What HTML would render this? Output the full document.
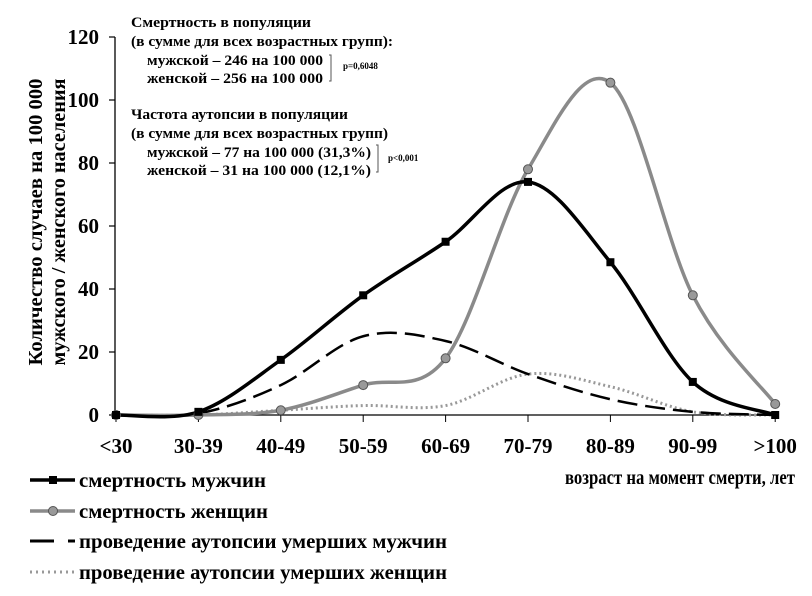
<!DOCTYPE html>
<html><head><meta charset="utf-8">
<style>
body{margin:0;background:#fff;}
svg text{font-family:"Liberation Serif",serif;font-weight:bold;fill:#000;}
</style></head>
<body>
<svg id="chart" width="812" height="591" viewBox="0 0 812 591" xmlns="http://www.w3.org/2000/svg">
<g id="axes"></g>
<g id="series"></g>
<g font-size="20">
<text transform="translate(42,222) rotate(-90)" text-anchor="middle" textLength="287" lengthAdjust="spacingAndGlyphs">Количество случаев на  100 000</text>
<text transform="translate(65,222) rotate(-90)" text-anchor="middle" textLength="287" lengthAdjust="spacingAndGlyphs">мужского / женского  населения</text>
</g>
<text x="565" y="484" font-size="20" textLength="230" lengthAdjust="spacingAndGlyphs">возраст на момент смерти, лет</text>
<g font-size="14.5">
<text x="131" y="27" textLength="180" lengthAdjust="spacingAndGlyphs">Смертность в популяции</text>
<text x="131" y="46" textLength="262" lengthAdjust="spacingAndGlyphs">(в  сумме для всех возрастных групп):</text>
<text x="147" y="65" textLength="176" lengthAdjust="spacingAndGlyphs">мужской – 246 на 100 000</text>
<text x="147" y="83" textLength="176" lengthAdjust="spacingAndGlyphs">женской – 256 на 100 000</text>
<path d="M329,55 L331,55 L331,81 L329,81" fill="none" stroke="#555" stroke-width="1"/>
<text x="343" y="69" font-size="9" font-weight="normal">p=0,6048</text>
<text x="131" y="119" textLength="217" lengthAdjust="spacingAndGlyphs">Частота аутопсии в популяции</text>
<text x="131" y="138" textLength="257" lengthAdjust="spacingAndGlyphs">(в  сумме для всех возрастных групп)</text>
<text x="147" y="157" textLength="224" lengthAdjust="spacingAndGlyphs">мужской – 77 на 100 000 (31,3%)</text>
<text x="147" y="175" textLength="224" lengthAdjust="spacingAndGlyphs">женской – 31 на 100 000 (12,1%)</text>
<path d="M376,145 L378,145 L378,172 L376,172" fill="none" stroke="#555" stroke-width="1"/>
<text x="388" y="161" font-size="9" font-weight="normal">p&lt;0,001</text>
</g>
<g font-size="21">
<g>
<line x1="30" y1="480" x2="75" y2="480" stroke="#000" stroke-width="3.5"/>
<rect x="49" y="476" width="8" height="8" fill="#000"/>
<text x="79" y="487" textLength="187" lengthAdjust="spacingAndGlyphs">смертность мужчин</text></g>
<g>
<line x1="30" y1="511" x2="75" y2="511" stroke="#8a8a8a" stroke-width="3.5"/>
<circle cx="53" cy="511" r="4.5" fill="#999" stroke="#555"/>
<text x="79" y="518" textLength="189" lengthAdjust="spacingAndGlyphs">смертность женщин</text></g>
<g>
<line x1="30" y1="541" x2="75" y2="541" stroke="#000" stroke-width="3" stroke-dasharray="24,14"/>
<text x="79" y="548" textLength="368" lengthAdjust="spacingAndGlyphs">проведение аутопсии умерших мужчин</text></g>
<g>
<line x1="30" y1="572" x2="75" y2="572" stroke="#999" stroke-width="3" stroke-dasharray="2,4"/>
<text x="79" y="579" textLength="368" lengthAdjust="spacingAndGlyphs">проведение аутопсии умерших женщин</text></g>
</g>
</svg>
<script>
const categories=["<30","30-39","40-49","50-59","60-69","70-79","80-89","90-99",">100"];
const menMortality=[0,1,17.5,38,55,74,48.5,10.5,0];
const womenMortality=[0,0,1.5,9.5,18,78,105.5,38,3.5];
const menAutopsy=[0,0.5,9.5,25,23.5,13,5,1,0];
const womenAutopsy=[0,0,1.5,3,3,13,9,1,0];
const yTicks=[0,20,40,60,80,100,120];

const NS="http://www.w3.org/2000/svg";
const x0=116,dx=82.4,yBase=415,yTop=37,yMax=120;
function xs(i){return x0+i*dx;}
function ys(v){return yBase-(v/yMax)*(yBase-yTop);}
function mk(tag,attrs,parent){const e=document.createElementNS(NS,tag);for(const k in attrs)e.setAttribute(k,attrs[k]);parent.appendChild(e);return e;}
const axes=document.getElementById('axes'),series=document.getElementById('series');

let a=mk('line',{x1:115,y1:yTop,x2:115,y2:yBase,stroke:'#000','stroke-width':1.3},axes);


a=mk('line',{x1:115,y1:yBase,x2:xs(8)+2,y2:yBase,stroke:'#000','stroke-width':1.3},axes);


yTicks.forEach(v=>{
  const y=ys(v);
  mk('line',{x1:109,y1:y,x2:115,y2:y,stroke:'#000','stroke-width':1.2},axes);
  const t=mk('text',{x:99,y:y+7,'text-anchor':'end','font-size':21},axes);
  t.textContent=v;
  
  
});
categories.forEach((c,i)=>{
  const x=xs(i);
  mk('line',{x1:x,y1:yBase,x2:x,y2:yBase+7,stroke:'#000','stroke-width':1},axes);
  const t=mk('text',{x:x,y:453,'text-anchor':'middle','font-size':21},axes);
  t.textContent=c;
  
  
});

function smoothPath(vals){
  const p=vals.map((v,i)=>[xs(i),ys(v)]);
  let d='M'+p[0][0]+','+p[0][1];
  for(let i=0;i<p.length-1;i++){
    const p0=p[Math.max(0,i-1)],p1=p[i],p2=p[i+1],p3=p[Math.min(p.length-1,i+2)];
    const k=1/6;
    const c1=[p1[0]+(p2[0]-p0[0])*k,p1[1]+(p2[1]-p0[1])*k];
    const c2=[p2[0]-(p3[0]-p1[0])*k,p2[1]-(p3[1]-p1[1])*k];
    d+=' C'+c1[0]+','+c1[1]+' '+c2[0]+','+c2[1]+' '+p2[0]+','+p2[1];
  }
  return d;
}
function drawLine(vals,name,stroke,w,dash){
  const e=mk('path',{d:smoothPath(vals),fill:'none',stroke:stroke,'stroke-width':w},series);
  if(dash)e.setAttribute('stroke-dasharray',dash);
  
  
}
drawLine(womenAutopsy,'women-autopsy-line','#999',3,'2,3');
drawLine(menAutopsy,'men-autopsy-line','#000',2.5,'20,8');
drawLine(womenMortality,'women-mortality-line','#8a8a8a',3.5,null);
drawLine(menMortality,'men-mortality-line','#000',3.5,null);
womenMortality.forEach((v,i)=>{
  const c=mk('circle',{cx:xs(i),cy:ys(v),r:4.5,fill:'#999',stroke:'#555','stroke-width':1},series);
  
  
});
menMortality.forEach((v,i)=>{
  const r=mk('rect',{x:xs(i)-4,y:ys(v)-4,width:8,height:8,fill:'#000'},series);
  
  
});
</script>
</body></html>
